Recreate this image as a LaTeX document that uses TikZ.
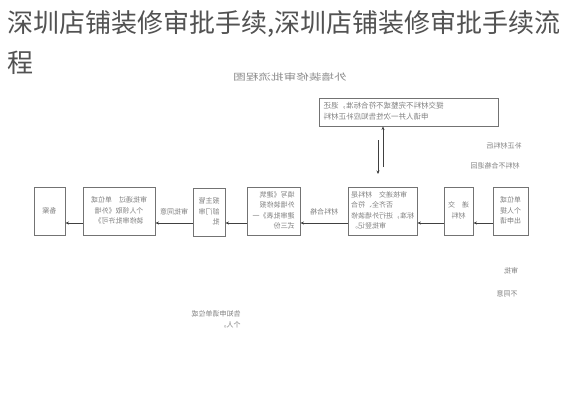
\documentclass[tikz,border=0pt]{standalone}
\usepackage{fontspec}
\usepackage{graphicx}
\newfontfamily\cjk{Noto Sans CJK SC}
\usetikzlibrary{arrows.meta,calc}
\newcommand{\mirtext}[2][c]{\reflectbox{\begin{tabular}{@{}#1@{}}#2\end{tabular}}}
\tikzset{
  box/.style={draw=black!55, line width=0.9pt, inner sep=1pt, minimum height=48pt,
    font=\cjk\fontsize{7}{10.5}\selectfont, text=black!50},
  arr/.style={-{Stealth[length=3.5pt,width=3pt]}, draw=black!75, line width=0.9pt},
  lbl/.style={font=\cjk\fontsize{7}{9}\selectfont, text=black!50, inner sep=0.5pt},
  ttl/.style={font=\cjk\fontsize{26}{30}\selectfont, text=black!68, inner sep=0pt, anchor=base west},
}
\begin{document}
\begin{tikzpicture}[x=1pt,y=-1pt]
\useasboundingbox[fill=white] (0,0) rectangle (566,400);
% page title
\node[ttl] (t1) at (7,32) {深圳店铺装修审批手续,深圳店铺装修审批手续流};
\node[ttl] (t2) at (7,72) {程};
% diagram title (mirrored)
\node[font=\cjk\fontsize{9}{10}\selectfont, text=black!45, inner sep=0pt] (dt) at (290,77)
  {\scalebox{-1.4}[1]{外墙装修审批流程图}};
% top box
\node[box, minimum width=179pt, minimum height=28pt, inner sep=0pt, font=\cjk\fontsize{7.5}{10.5}\selectfont] (T) at (408.5,112)
  {\makebox[170pt][l]{\mirtext[r]{提交材料不完整或不符合标准，退还\\申请人并一次性告知应补正材料}}};
% main row
\node[box, minimum width=31pt] (A) at (49.5,211) {\mirtext{备案}};
\node[box, minimum width=72pt] (B) at (119,211) {\mirtext{审批通过　单位或\\个人领取《外墙\\装修审批许可》}};
\node[box, minimum width=32pt] (C) at (209,212) {\mirtext[l]{报主管\\部门审\\批}};
\node[box, minimum width=53pt] (D) at (273.5,211) {\mirtext[l]{填写《建筑\\外墙装修报\\建审批表》一\\式三份}};
\node[box, minimum width=69pt] (E) at (382.5,211) {\mirtext[r]{审核递交　材料是\\否齐全、符合\\标准，进行外墙装修\\审批登记。}};
\node[box, minimum width=29pt] (F) at (458.5,211) {\mirtext{递　交\\材料}};
\node[box, minimum width=35pt] (G) at (510.5,211) {\mirtext{单位或\\个人提\\出申请}};
% arrows along the row
\draw[arr] ($(G.west)+(0,12)$) -- ($(F.east)+(0,12)$);
\draw[arr] ($(F.west)+(0,12)$) -- ($(E.east)+(0,12)$);
\draw[arr] ($(E.west)+(0,12)$) -- node[lbl, above=5pt] (l1) {\mirtext{材料合格}} ($(D.east)+(0,12)$);
\draw[arr] ($(D.west)+(0,12)$) -- ($(C.east)+(0,11)$);
\draw[arr] ($(C.west)+(0,11)$) -- node[lbl, above=5pt] (l2) {\mirtext{审批同意}} ($(B.east)+(0,12)$);
\draw[arr] ($(B.west)+(0,12)$) -- ($(A.east)+(0,12)$);
% vertical arrows
\coordinate (u1) at (383,167);
\draw[arr] (u1) -- (u1 |- T.south);
\coordinate (d0) at (378,140);
\coordinate (d1) at (378,174);
\draw[arr] (d0) -- (d1);
% side labels
\node[lbl] (r1) at (504,147) {\mirtext{补正材料后}};
\node[lbl] (r2) at (495,167) {\mirtext{材料不合格退回}};
\node[lbl] (r3) at (511,272) {\mirtext{审批}};
\node[lbl] (r4) at (507,295) {\mirtext{不同意}};
\node[lbl, font=\cjk\fontsize{7}{11}\selectfont] (bl) at (216,320) {\mirtext[l]{告知申请单位或\\个人。}};
\end{tikzpicture}
\end{document}
